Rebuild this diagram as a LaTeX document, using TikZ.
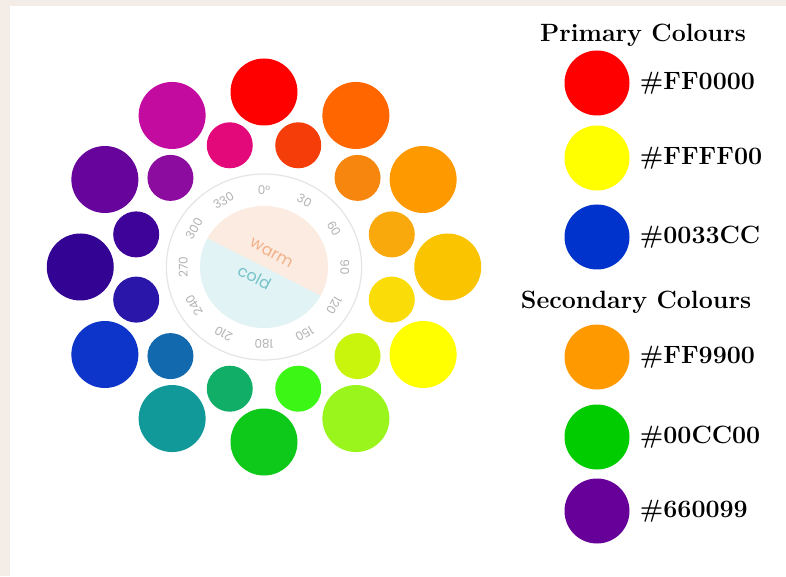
\documentclass[tikz,border=0pt]{standalone}
\usepackage{fontspec}
\usepackage{xcolor}
\usepackage{tikz}
\usetikzlibrary{positioning}
\newfontfamily\wheelfont{Poppins}
\definecolor{c000}{HTML}{FF0000}
\definecolor{c015}{HTML}{F53D0A}
\definecolor{c030}{HTML}{FF6600}
\definecolor{c045}{HTML}{F6860E}
\definecolor{c060}{HTML}{FF9900}
\definecolor{c075}{HTML}{F9A90C}
\definecolor{c090}{HTML}{FBC400}
\definecolor{c105}{HTML}{FADD08}
\definecolor{c120}{HTML}{FFFF00}
\definecolor{c135}{HTML}{C9F50C}
\definecolor{c150}{HTML}{99F51B}
\definecolor{c165}{HTML}{3CF716}
\definecolor{c180}{HTML}{0EC81A}
\definecolor{c195}{HTML}{10AE67}
\definecolor{c210}{HTML}{11999A}
\definecolor{c225}{HTML}{1269AE}
\definecolor{c240}{HTML}{0E35C9}
\definecolor{c255}{HTML}{2A16A8}
\definecolor{c270}{HTML}{330394}
\definecolor{c285}{HTML}{3E0499}
\definecolor{c300}{HTML}{66049B}
\definecolor{c315}{HTML}{8B0C9E}
\definecolor{c330}{HTML}{C40BA0}
\definecolor{c345}{HTML}{E3097A}
\definecolor{keyyellow}{HTML}{FFFF00}
\definecolor{keyblue}{HTML}{0033CC}
\definecolor{keyorange}{HTML}{FF9900}
\definecolor{keygreen}{HTML}{00CC00}
\definecolor{keypurple}{HTML}{660099}
\definecolor{warmfill}{HTML}{FCEBE0}
\definecolor{coldfill}{HTML}{E2F3F6}
\definecolor{warmtext}{HTML}{F2B088}
\definecolor{coldtext}{HTML}{74C2C8}
\definecolor{paper}{HTML}{F4EDE7}

\begin{document}
\begin{tikzpicture}[x=1pt, y=1pt,
        bigdot/.style={circle, inner sep=0pt, minimum size=67pt},
        smalldot/.style={circle, inner sep=0pt, minimum size=46pt},
        keydot/.style={circle, inner sep=0pt, minimum size=65pt},
        keylabel/.style={font=\fontsize{25}{28}\selectfont\bfseries, inner sep=0pt},
        keytitle/.style={font=\fontsize{25}{28}\selectfont\bfseries},
        degree/.style={font=\wheelfont\fontsize{12}{13}\selectfont, text=black!30, inner sep=0pt}]
        \useasboundingbox (0,0) rectangle (786,576);
        \fill[paper] (0,0) rectangle (786,576);
        \fill[white] (10,0) rectangle (786,570);

        % colour wheel
        \begin{scope}[shift={(264,309)}, x=1.05pt]
        \draw[black!10, line width=1.2pt] (0,0) circle[radius=93];
        \fill[warmfill] (0,0) -- (-28:61) arc[start angle=-28, end angle=152, radius=61] -- cycle;
        \fill[coldfill] (0,0) -- (152:61) arc[start angle=152, end angle=332, radius=61] -- cycle;
        \node (warm) [font=\wheelfont\fontsize{16}{18}\selectfont, text=warmtext, rotate=-28] at (7,14) {warm};
        \node (cold) [font=\wheelfont\fontsize{16}{18}\selectfont, text=coldtext, rotate=-28] at (-9,-10) {cold};

        \node (d000) [degree, rotate=0] at (90:77) {0°};
        \node (d030) [degree, rotate=-30] at (60:77) {30};
        \node (d060) [degree, rotate=-60] at (30:77) {60};
        \node (d090) [degree, rotate=-90] at (0:77) {90};
        \node (d120) [degree, rotate=-120] at (-30:77) {120};
        \node (d150) [degree, rotate=-150] at (-60:77) {150};
        \node (d180) [degree, rotate=-180] at (-90:77) {180};
        \node (d210) [degree, rotate=-210] at (-120:77) {210};
        \node (d240) [degree, rotate=-240] at (-150:77) {240};
        \node (d270) [degree, rotate=-270] at (180:77) {270};
        \node (d300) [degree, rotate=-300] at (150:77) {300};
        \node (d330) [degree, rotate=-330] at (120:77) {330};

        \node (h000) [bigdot, fill=c000] at (90:175) {};
        \node (h030) [bigdot, fill=c030] at (60:175) {};
        \node (h060) [bigdot, fill=c060] at (30:175) {};
        \node (h090) [bigdot, fill=c090] at (0:175) {};
        \node (h120) [bigdot, fill=c120] at (-30:175) {};
        \node (h150) [bigdot, fill=c150] at (-60:175) {};
        \node (h180) [bigdot, fill=c180] at (-90:175) {};
        \node (h210) [bigdot, fill=c210] at (-120:175) {};
        \node (h240) [bigdot, fill=c240] at (-150:175) {};
        \node (h270) [bigdot, fill=c270] at (180:175) {};
        \node (h300) [bigdot, fill=c300] at (150:175) {};
        \node (h330) [bigdot, fill=c330] at (120:175) {};

        \node (h015) [smalldot, fill=c015] at (75:126) {};
        \node (h045) [smalldot, fill=c045] at (45:126) {};
        \node (h075) [smalldot, fill=c075] at (15:126) {};
        \node (h105) [smalldot, fill=c105] at (-15:126) {};
        \node (h135) [smalldot, fill=c135] at (-45:126) {};
        \node (h165) [smalldot, fill=c165] at (-75:126) {};
        \node (h195) [smalldot, fill=c195] at (-105:126) {};
        \node (h225) [smalldot, fill=c225] at (-135:126) {};
        \node (h255) [smalldot, fill=c255] at (-165:126) {};
        \node (h285) [smalldot, fill=c285] at (165:126) {};
        \node (h315) [smalldot, fill=c315] at (135:126) {};
        \node (h345) [smalldot, fill=c345] at (105:126) {};
        \end{scope}

        % key
        \node (primtitle) [keytitle] at (643,541) {Primary Colours};
        \node (keyred) [keydot, fill=c000] at (597,493) {};
        \node (keyyel) [keydot, fill=keyyellow] at (597,418) {};
        \node (keyblu) [keydot, fill=keyblue] at (597,339) {};
        \node (sectitle) [keytitle] at (636,274) {Secondary Colours};
        \node (keyora) [keydot, fill=keyorange] at (597,219) {};
        \node (keygre) [keydot, fill=keygreen] at (597,139) {};
        \node (keypur) [keydot, fill=keypurple] at (597,65) {};
        \node (redtxt) [keylabel, right=10pt of keyred] {\#FF0000};
        \node (yeltxt) [keylabel, right=10pt of keyyel] {\#FFFF00};
        \node (blutxt) [keylabel, right=10pt of keyblu] {\#0033CC};
        \node (oratxt) [keylabel, right=10pt of keyora] {\#FF9900};
        \node (gretxt) [keylabel, right=10pt of keygre] {\#00CC00};
        \node (purtxt) [keylabel, right=10pt of keypur] {\#660099};
    \end{tikzpicture}
\end{document}
